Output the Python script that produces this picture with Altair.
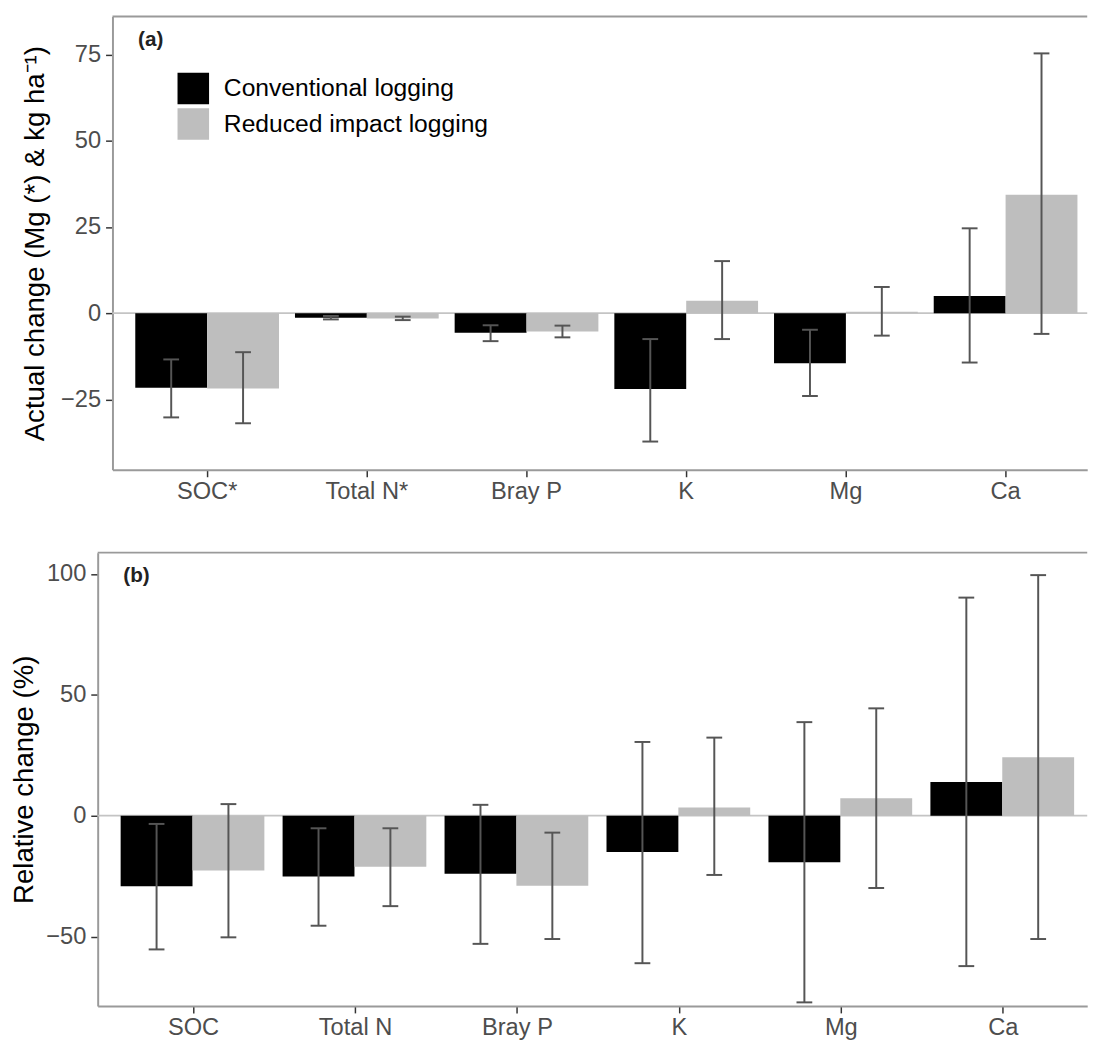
import altair as alt
import pandas as pd

FONT = "Liberation Sans"
groups = ["Conventional logging", "Reduced impact logging"]
colors = ["#000000", "#bebebe"]

# Panel (a): actual change
cats_a = ["SOC*", "Total N*", "Bray P", "K", "Mg", "Ca"]
cl_a = [-21.6, -1.3, -5.7, -22.0, -14.5, 5.0]
cl_a_lo = [-30.2, -1.8, -8.1, -37.2, -24.0, -14.3]
cl_a_hi = [-13.4, -0.8, -3.5, -7.5, -4.8, 24.6]
ril_a = [-21.8, -1.5, -5.3, 3.6, 0.4, 34.3]
ril_a_lo = [-31.9, -2.0, -7.0, -7.5, -6.5, -6.0]
ril_a_hi = [-11.3, -1.0, -3.6, 15.1, 7.6, 75.3]
ticks_a = [-25, 0, 25, 50, 75]

# Panel (b): relative change
cats_b = ["SOC", "Total N", "Bray P", "K", "Mg", "Ca"]
cl_b = [-29.2, -25.1, -24.0, -15.0, -19.3, 13.9]
cl_b_lo = [-55.3, -45.5, -53.0, -61.0, -77.2, -62.2]
cl_b_hi = [-3.4, -5.2, 4.5, 30.5, 38.7, 90.2]
ril_b = [-22.7, -21.1, -29.0, 3.4, 7.2, 24.2]
ril_b_lo = [-50.3, -37.4, -51.0, -24.5, -29.9, -51.0]
ril_b_hi = [4.8, -5.2, -7.0, 32.3, 44.4, 99.5]
ticks_b = [-50, 0, 50, 100]

BORDER = "#9a9a9a"
ERR = "#555555"


def panel(cats, cl, cl_lo, cl_hi, ril, ril_lo, ril_hi, ydomain, yvalues,
          ytitle, tag, W, H, po, align, title_x, shift, bottom_ext, legend):
    rows = []
    for i, c in enumerate(cats):
        rows.append(dict(cat=c, grp=groups[0], val=cl[i], lo=cl_lo[i], hi=cl_hi[i]))
        rows.append(dict(cat=c, grp=groups[1], val=ril[i], lo=ril_lo[i], hi=ril_hi[i]))
    df = pd.DataFrame(rows)
    one = pd.DataFrame({"z": [0]})

    xaxis = alt.Axis(title=None, labelAngle=0, labelPadding=3)
    xenc = alt.X("cat:N", sort=cats,
                 scale=alt.Scale(paddingInner=0.1, paddingOuter=po, align=align,
                                 range=[-shift, W]),
                 axis=xaxis)
    xoff = alt.XOffset("grp:N", sort=groups,
                       scale=alt.Scale(paddingInner=0, paddingOuter=0))
    yscale = alt.Scale(domain=ydomain, nice=False, zero=False)
    yaxis = alt.Axis(values=yvalues, title=ytitle, titleX=title_x, titleY=H / 2,
                     titleAngle=270, titleBaseline="alphabetic", titleAlign="center",
                     labelPadding=5, offset=shift)

    zero = alt.Chart(one).mark_rule(color="#c4c4c4", strokeWidth=1.8).encode(
        x=alt.value(-shift), x2=alt.value(W),
        y=alt.Y("z:Q", scale=yscale, axis=yaxis, title=ytitle))

    if legend:
        leg = alt.Legend(orient="none", legendX=66, legendY=57, title=None,
                         symbolType="square", symbolSize=1024, symbolStrokeWidth=0,
                         symbolOpacity=1, labelFontSize=25, labelFont=FONT,
                         labelColor="black", labelOffset=15, rowPadding=4, padding=0,
                         labelLimit=0)
    else:
        leg = None
    bars = alt.Chart(df).mark_bar(opacity=1).encode(
        x=xenc, xOffset=xoff,
        y=alt.Y("val:Q", scale=yscale, axis=yaxis, title=ytitle),
        y2=alt.datum(0),
        color=alt.Color("grp:N", sort=groups,
                        scale=alt.Scale(domain=groups, range=colors), legend=leg),
    )
    whisk = alt.Chart(df).mark_rule(color=ERR, strokeWidth=2).encode(
        x=xenc, xOffset=xoff,
        y=alt.Y("lo:Q", scale=yscale, axis=yaxis, title=ytitle), y2="hi:Q")
    cap_lo = alt.Chart(df).mark_tick(color=ERR, thickness=2, size=16, opacity=1).encode(
        x=xenc, xOffset=xoff, y=alt.Y("lo:Q", scale=yscale, axis=yaxis, title=ytitle))
    cap_hi = alt.Chart(df).mark_tick(color=ERR, thickness=2, size=16, opacity=1).encode(
        x=xenc, xOffset=xoff, y=alt.Y("hi:Q", scale=yscale, axis=yaxis, title=ytitle))
    top = alt.Chart(one).mark_rule(color=BORDER, strokeWidth=2).encode(
        x=alt.value(-shift), x2=alt.value(W), y=alt.value(0))
    bound = alt.Chart(one).mark_rule(color="white", strokeWidth=1).encode(
        x=alt.value(-105), y=alt.value(0), y2=alt.value(bottom_ext))
    label = alt.Chart(one).mark_text(text=tag, font=FONT, fontSize=21, fontWeight="bold",
                                     align="left", baseline="middle", color="#222222").encode(
        x=alt.value(26 - shift), y=alt.value(24))
    return alt.layer(zero, bars, whisk, cap_lo, cap_hi, top, bound, label).properties(
        width=W, height=H)


H = 460
pa = panel(cats_a, cl_a, cl_a_lo, cl_a_hi, ril_a, ril_a_lo, ril_a_hi,
           [-45.4, 86.0], ticks_a, "Actual change (Mg (*) & kg ha\u207b\u00b9)", "(a)",
           W=989, H=H, po=0.102, align=0.70, title_x=-70, shift=0,
           bottom_ext=542, legend=True)
pb = panel(cats_b, cl_b, cl_b_lo, cl_b_hi, ril_b, ril_b_lo, ril_b_hi,
           [-78.7, 108.8], ticks_b, "Relative change (%)", "(b)",
           W=989, H=H, po=0.105, align=0.675, title_x=-66, shift=15,
           bottom_ext=460, legend=False)

chart = alt.vconcat(pa, pb, spacing=0).resolve_scale(
    color="independent").resolve_legend(color="independent").properties(
    padding={"left": 0, "top": 0, "right": 0, "bottom": 0}
).configure_view(stroke=None).configure_axis(
    domainColor=BORDER, domainWidth=2, tickColor="#333333", tickWidth=1.5, tickSize=7,
    labelFont=FONT, labelFontSize=24, labelColor="#4d4d4d",
    titleFont=FONT, titleFontSize=28, titleColor="#000000", titleFontWeight="normal",
    grid=False,
)

chart.save("out.html", embed_options={"renderer": "svg", "actions": False})
